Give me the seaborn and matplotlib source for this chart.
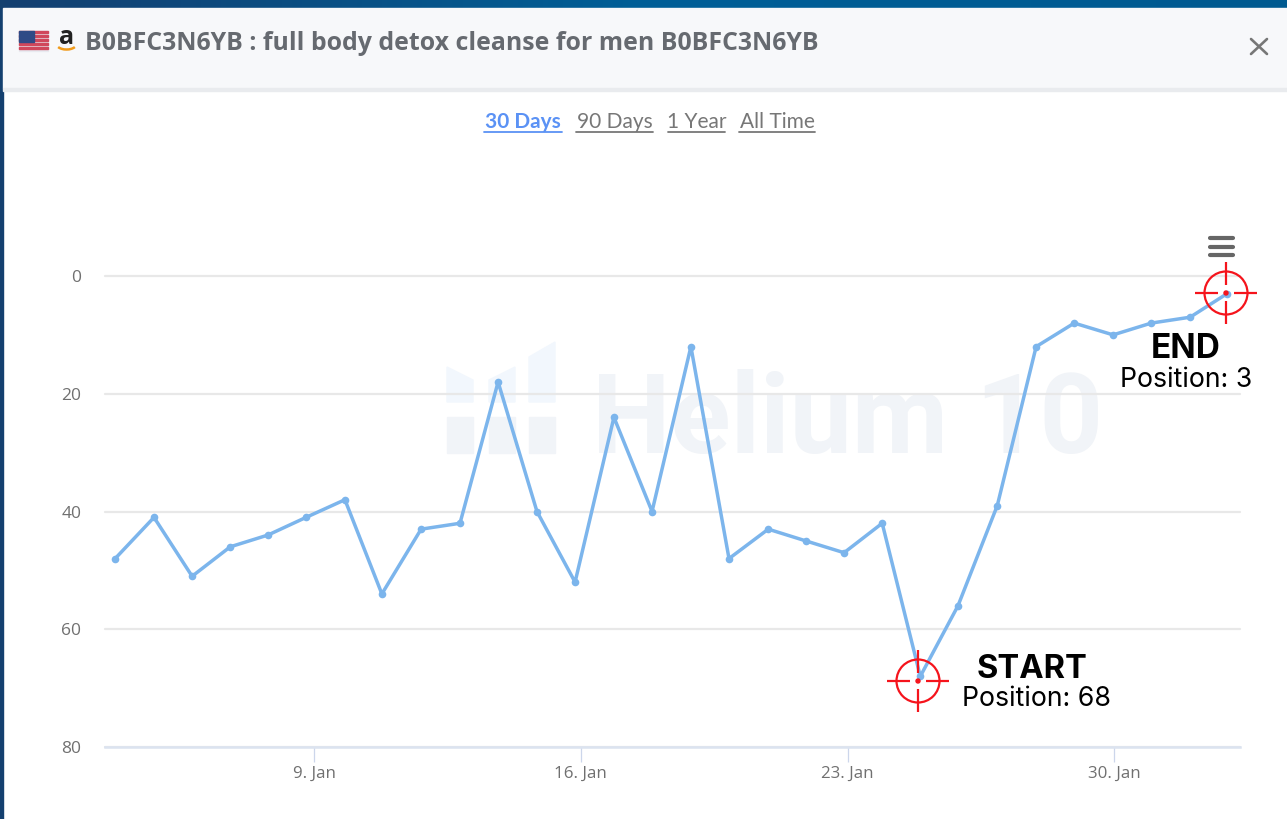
import numpy as np
import matplotlib
matplotlib.use("Agg")
import matplotlib.pyplot as plt
from matplotlib.colors import LinearSegmentedColormap
from matplotlib.patches import Arc, Circle, Polygon, Rectangle
import pandas as pd
import seaborn as sns

# day of January for every point, and rank on that day
days = [3.78, 4.80, 5.80, 6.80, 7.79, 8.79, 9.81, 10.78, 11.81, 12.83,
        13.83, 14.85, 15.85, 16.87, 17.87, 18.89, 19.89, 20.92, 21.91, 22.91,
        23.91, 24.91, 25.90, 26.93, 27.95, 28.95, 29.97, 30.97, 31.99, 32.96]
position = [48, 41, 51, 46, 44, 41, 38, 54, 43, 42,
            18, 40, 52, 24, 40, 12, 48, 43, 45, 47,
            42, 68, 56, 39, 12, 8, 10, 8, 7, 3]
x_ticks = [9, 16, 23, 30]
x_labels = ["9. Jan", "16. Jan", "23. Jan", "30. Jan"]
y_ticks = [0, 20, 40, 60, 80]

title = "B0BFC3N6YB : full body detox cleanse for men B0BFC3N6YB"
tabs = ["30 Days", "90 Days", "1 Year", "All Time"]

W, H = 1287, 819
LINE = "#7cb5ec"
RED = "#f5141c"

sns.set_style("white")
plt.rcParams["font.family"] = ["Lato", "DejaVu Sans"]

fig = plt.figure(figsize=(W / 100, H / 100), dpi=100)


def pixel_axes(zorder):
    ax = fig.add_axes([0, 0, 1, 1], zorder=zorder)
    ax.set_xlim(0, W)
    ax.set_ylim(H, 0)
    ax.axis("off")
    ax.patch.set_alpha(0)
    return ax


# window behind the chart
bg = pixel_axes(0)
bg.add_patch(Rectangle((0, 0), W, H, color="white"))
strip = LinearSegmentedColormap.from_list("strip", ["#143f70", "#005f97", "#005a90"])
bg.imshow(np.linspace(0, 1, 256)[None, :], cmap=strip, aspect="auto", extent=(0, W, 8, 0), zorder=2)
bg.set_xlim(0, W)
bg.set_ylim(H, 0)
bg.add_patch(Rectangle((0, 0), 3, H, color="#14406f", zorder=3))
bg.add_patch(Rectangle((3, 8), W, 80, color="#f7f8fa", zorder=3))
bg.add_patch(Rectangle((3, 88), W, 3, color="#e9ebee", zorder=3))

# watermark
wm = "#f1f4f8"
bg.add_patch(Polygon([(447, 367), (473, 380), (473, 402), (447, 402)], color="#f2f7fd"))
bg.add_patch(Polygon([(489, 380), (515, 367), (515, 402), (489, 402)], color="#f2f7fd"))
bg.add_patch(Polygon([(529, 357), (555, 342), (555, 402), (529, 402)], color="#f2f7fd"))
for left in [447, 489, 529]:
    bg.add_patch(Rectangle((left, 417), 26, 36, color=wm))
bg.text(592, 453, "Helium 10", family="Roboto", fontweight="bold", fontsize=80, color=wm,
        ha="left", va="baseline")

# chart
ax = fig.add_axes([105 / W, 1 - 747 / H, (1240 - 105) / W, (747 - 276) / H], zorder=1)
ax.patch.set_alpha(0)
df = pd.DataFrame({"day": days, "position": position})
sns.lineplot(data=df, x="day", y="position", ax=ax, color=LINE, linewidth=2.5,
             marker="o", markersize=5.5, markeredgewidth=0, clip_on=False, zorder=3)
ax.set_xlim(3.514, 33.30)
ax.set_ylim(80, 0)
ax.set_xlabel("")
ax.set_ylabel("")
ax.set_xticks(x_ticks, x_labels, family="Open Sans")
ax.set_yticks(y_ticks, [str(v) for v in y_ticks], family="Open Sans")
ax.grid(axis="y", color="#e8e8e8", linewidth=1.6)
ax.grid(axis="x", visible=False)
for gridline in ax.get_ygridlines():
    gridline.set_clip_on(False)
for side in ["top", "left", "right"]:
    ax.spines[side].set_visible(False)
ax.spines["bottom"].set_color("#dbe3f0")
ax.spines["bottom"].set_linewidth(1.8)
ax.tick_params(axis="x", length=11, width=0.9, color="#ccd6eb", labelcolor="#707070",
               labelsize=12.2, pad=2.5, bottom=True)
ax.tick_params(axis="y", length=0, labelcolor="#707070", labelsize=12.5, pad=17)

# everything drawn over the chart
top = pixel_axes(2)

# flag and marketplace logo
top.add_patch(Rectangle((19, 31), 29, 20, color="#e8eaf0"))
for y0 in [31, 35, 39, 43, 47]:
    top.add_patch(Rectangle((19, y0), 29, 2.2, color="#d0485c"))
top.add_patch(Rectangle((19, 31), 15, 10.5, color="#2f4a86"))
top.text(66.5, 44, "a", fontsize=18, fontweight="bold", color="#222222", ha="center", va="baseline",
         family="Open Sans")
top.add_patch(Arc((66.5, 44), 20, 11, theta1=20, theta2=160, color="#f09a1a", lw=1.8))

top.text(85, 43, title, fontsize=17.95, fontweight="bold", color="#666a70", ha="left", va="center",
         family="Open Sans")

# close button
top.plot([1251, 1267], [39, 54], color="#777777", lw=1.9, solid_capstyle="round")
top.plot([1251, 1267], [54, 39], color="#777777", lw=1.9, solid_capstyle="round")

# range selector
tab_spans = [(484, 562), (576, 653), (668, 725), (739, 815)]
for i, (label, (x0, x1)) in enumerate(zip(tabs, tab_spans)):
    color = "#5b92f5" if i == 0 else "#777777"
    top.text((x0 + x1) / 2, 122, label, fontsize=15, color=color, ha="center", va="center",
             fontweight="bold" if i == 0 else "normal")
    top.plot([x0, x1], [132, 132], color=color, lw=1.3)

# export menu
for y0 in [238, 247, 255]:
    top.plot([1210, 1233], [y0, y0], color="#666666", lw=3, solid_capstyle="round")


def target(cx, cy):
    top.add_patch(Circle((cx, cy), 21.5, fill=False, ec=RED, lw=1.6))
    top.add_patch(Circle((cx, cy), 2, color=RED))
    for dx, dy in [(1, 0), (-1, 0), (0, 1), (0, -1)]:
        top.plot([cx + dx * 8, cx + dx * 31], [cy + dy * 8, cy + dy * 31], color=RED, lw=1.6,
                 solid_capstyle="butt")


target(1226, 293)
target(918, 681)

top.text(1186, 349, "END", family="Inter", fontsize=24, fontweight="bold", color="black",
         ha="center", va="center")
top.text(1186, 380, "Position: 3", family="Inter", fontsize=19.2, color="black", ha="center", va="center")
top.text(1032, 669, "START", family="Inter", fontsize=23.5, fontweight="bold", color="black",
         ha="center", va="center")
top.text(1037, 699, "Position: 68", family="Inter", fontsize=19.2, color="black", ha="center", va="center")

fig.savefig("out.png", dpi=100)
